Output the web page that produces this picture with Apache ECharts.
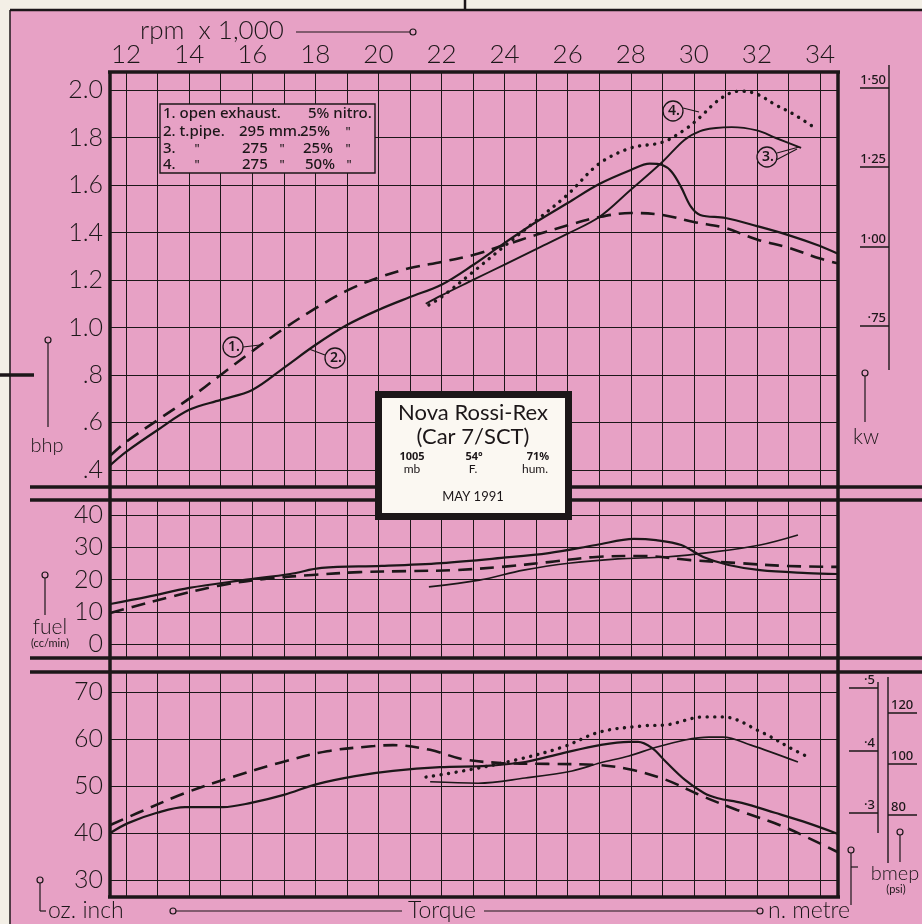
<!DOCTYPE html>
<html>
<head>
<meta charset="utf-8">
<script src="https://cdn.jsdelivr.net/npm/echarts@6/dist/echarts.min.js"></script>
<style>
  html, body { margin: 0; padding: 0; background: #f3efe6; }
  #chart { width: 922px; height: 924px; }
</style>
</head>
<body>
<div id="chart"></div>
<script>
// axis ticks
const rpmGrid = [12,13,14,15,16,17,18,19,20,21,22,23,24,25,26,27,28,29,30,31,32,33,34];
const rpmLabels = [12,14,16,18,20,22,24,26,28,30,32,34];
const bhpTicks = [0.4,0.6,0.8,1.0,1.2,1.4,1.6,1.8,2.0];
const kwTicks = [0.75,1.0,1.25,1.5];
const fuelTicks = [0,10,20,30,40];
const torqueTicks = [30,40,50,60,70];
const nmTicks = [0.3,0.4,0.5];
const psiTicks = [80,100,120];

// bhp  [rpm x1000, bhp]
const bhpOpen = [[11.5,0.46],[12,0.518],[13,0.61],[14,0.70],[15,0.80],[16,0.90],[17,0.995],[18,1.08],[19,1.155],[20,1.21],[21,1.25],[22,1.276],[23,1.305],[24,1.347],[25,1.39],[26,1.43],[27,1.465],[28,1.482],[29,1.474],[30,1.444],[31,1.419],[32,1.37],[33,1.336],[34,1.29],[34.57,1.27]];
const bhp295 = [[11.5,0.42],[12,0.476],[13,0.568],[14,0.653],[15,0.695],[16,0.737],[17,0.83],[18,0.926],[19,1.01],[20,1.074],[21,1.128],[22,1.18],[23,1.263],[24,1.356],[25,1.444],[26,1.524],[27,1.604],[28,1.663],[28.6,1.69],[29,1.684],[29.3,1.655],[29.6,1.59],[29.9,1.51],[30.2,1.474],[31,1.461],[32,1.427],[33,1.389],[34,1.343],[34.57,1.31]];
const bhp275 = [[21.5,1.10],[22,1.135],[23,1.20],[24,1.265],[25,1.33],[26,1.395],[27,1.465],[28,1.58],[29,1.697],[29.7,1.79],[30.2,1.827],[30.7,1.84],[31.2,1.844],[32,1.83],[32.6,1.798],[33.4,1.756]];
const bhp275n50 = [[21.6,1.095],[22,1.128],[23,1.234],[24,1.343],[25,1.45],[26,1.56],[27,1.69],[28,1.756],[29,1.78],[29.7,1.832],[30.2,1.886],[30.7,1.949],[31.2,1.99],[31.5,1.995],[32,1.983],[32.6,1.937],[33.1,1.903],[33.8,1.844]];

// fuel cc/min
const fuelOpen = [[11.5,9.6],[12.2,11.5],[13.4,14.6],[14.9,18.0],[16.4,20.2],[17.9,21.4],[19.4,22.3],[20.9,22.6],[22.4,22.9],[23.9,23.9],[25.4,25.4],[26.9,27.0],[28.4,27.3],[29.9,26.0],[31.4,25.1],[32.9,24.2],[34.57,23.9]];
const fuel295 = [[11.5,12.4],[12.67,14.6],[14,17.4],[15.7,19.8],[17.2,21.7],[18.2,23.6],[20.1,24.2],[22,25.1],[23.9,26.7],[25.4,28.2],[26.9,30.7],[28.1,32.6],[28.8,32.2],[29.6,30.7],[30.3,27.0],[31.1,24.5],[32.1,22.9],[33.6,22.0],[34.57,21.7]];
const fuel275 = [[21.6,17.7],[23.2,19.8],[24.6,22.9],[26.1,25.1],[27.6,26.4],[29.1,27.0],[30.6,28.5],[32.1,30.7],[33.3,33.8]];

// torque oz.inch
const torqueOpen = [[11.5,41.7],[12.38,44.3],[13.87,48.5],[15.36,51.9],[16.85,54.9],[18.37,57.4],[19.86,58.5],[20.46,58.7],[21.64,57.7],[22.68,55.7],[23.89,54.9],[25.38,54.7],[26.9,54.5],[28.07,53.4],[29.12,51.3],[30.32,47.7],[31.37,44.9],[32.86,41.3],[34.57,35.9]];
const torque295 = [[11.5,40.0],[12.06,42.1],[12.98,44.3],[13.87,45.5],[15.07,45.5],[15.96,46.4],[17.0,48.1],[18.05,50.4],[19.26,52.1],[20.46,53.2],[21.95,54.0],[23.44,54.3],[24.65,55.1],[25.85,57.0],[27.02,58.7],[27.94,59.4],[28.23,59.4],[28.67,58.1],[29.12,55.1],[29.72,51.3],[30.32,48.5],[30.76,47.4],[31.52,46.4],[32.57,44.3],[33.62,42.1],[34.57,39.8]];
const torque275 = [[21.64,50.9],[23.16,50.6],[24.65,51.7],[26.14,53.2],[27.02,54.9],[27.94,56.4],[28.83,58.3],[29.72,59.8],[30.48,60.4],[30.92,60.4],[31.81,58.7],[33.3,55.1]];
const torque275n50 = [[21.51,51.9],[22.84,53.4],[24.33,55.5],[25.85,58.3],[27.02,61.5],[28.39,62.8],[29.12,63.0],[30.32,64.7],[30.92,64.7],[32.13,61.5],[33.17,57.7],[33.68,56.0]];

// axis extents (read from frame edges)
const RPM_MIN = 11.49, RPM_MAX = 34.57;
const BHP_MIN = 0.328, BHP_MAX = 2.076;
const KW_PER_BHP = 0.7457;
const FUEL_MIN = -4.34, FUEL_MAX = 44.65;
const TQ_MIN = 26.38, TQ_MAX = 74.26;
const NM_MIN = 0.1656, NM_MAX = 0.5256;
const PSI_MIN = 47.8, PSI_MAX = 136.1;

const INK = '#1c1719';
const PINK = '#e7a1c5';
const LABEL_FONT = 'Lato';

const chart = echarts.init(document.getElementById('chart'));

function xAx(grid, withLabels) {
  return {
    type: 'value', gridIndex: grid, min: RPM_MIN, max: RPM_MAX,
    position: 'top',
    axisLine: {show: false},
    axisTick: {show: false, customValues: rpmGrid},
    splitLine: {show: true, lineStyle: {color: INK, width: 1}},
    axisLabel: {
      show: withLabels, customValues: rpmLabels, margin: 4,
      fontFamily: LABEL_FONT, fontWeight: 300, fontSize: 26, color: INK
    }
  };
}

function yAx(grid, min, max, ticks, fmt) {
  return {
    type: 'value', gridIndex: grid, min: min, max: max,
    axisLine: {show: false},
    axisTick: {show: false, customValues: ticks},
    splitLine: {show: true, lineStyle: {color: INK, width: 1}},
    axisLabel: {
      customValues: ticks, margin: 7, formatter: fmt,
      fontFamily: LABEL_FONT, fontWeight: 300, fontSize: 25, color: INK
    }
  };
}

function sideAx(grid, min, max, ticks, offset, inside, fmt) {
  return {
    type: 'value', gridIndex: grid, min: min, max: max, position: 'right', offset: offset,
    axisLine: {show: false},
    splitLine: {show: false},
    axisTick: {show: true, customValues: ticks, inside: inside, length: 29, lineStyle: {color: INK, width: 1.5}},
    axisLabel: {
      customValues: ticks, inside: inside, margin: 3, formatter: fmt,
      verticalAlign: 'bottom', padding: [0, 0, 1, 0],
      fontFamily: 'Noto Sans', fontWeight: 500, fontSize: 13, color: INK
    }
  };
}

function line(name, data, xi, yi, kind) {
  const s = {
    name: name, type: 'line', data: data, xAxisIndex: xi, yAxisIndex: yi,
    showSymbol: false, smooth: 0.35, z: 5,
    lineStyle: {color: INK, width: 2.2, cap: 'round'}
  };
  if (kind === 'dash') s.lineStyle = {color: INK, width: 2.6, type: [14, 8]};
  if (kind === 'dot') s.lineStyle = {color: INK, width: 3.4, type: [0.1, 7.5], cap: 'round'};
  if (kind === 'mid') s.lineStyle = {color: INK, width: 1.9};
  if (kind === 'thin') s.lineStyle = {color: INK, width: 1.6};
  return s;
}

// decoration helpers
function ln(x1, y1, x2, y2, w) {
  return {type: 'line', z: 50, shape: {x1: x1, y1: y1, x2: x2, y2: y2}, style: {stroke: INK, lineWidth: w || 1.2}};
}
function dot(cx, cy, r) {
  return {type: 'circle', z: 50, shape: {cx: cx, cy: cy, r: r || 3}, style: {fill: 'none', stroke: INK, lineWidth: 1.2}};
}
function txt(t, x, y, size, opts) {
  opts = opts || {};
  return {type: 'text', z: 120, style: {
    text: t, x: x, y: y, fill: INK,
    font: (opts.weight || 300) + ' ' + size + 'px ' + (opts.family || LABEL_FONT),
    textAlign: opts.align || 'center', textVerticalAlign: 'middle'
  }};
}
function tag(label, cx, cy, leaders) {
  const out = [{type: 'circle', z: 60, shape: {cx: cx, cy: cy, r: 10}, style: {fill: PINK, stroke: INK, lineWidth: 1.3}},
    txt(label, cx + 1, cy, 14, {weight: 600, family: 'Noto Sans'})];
  leaders.forEach(l => out.push(ln(l[0], l[1], l[2], l[3], 1.1)));
  return out;
}
function legendText(t, x, y, small) {
  return txt(t, x, y, small ? 12 : 15, {align: small ? 'center' : 'left', weight: 500, family: 'Noto Sans'});
}

const graphics = [
  // page edge
  {type: 'rect', z: -1, shape: {x: 0, y: 0, width: 922, height: 10}, style: {fill: '#f3efe6'}},
  {type: 'rect', z: -1, shape: {x: 0, y: 0, width: 10, height: 924}, style: {fill: '#f3efe6'}},
  ln(10, 10, 922, 10, 2.5), ln(10, 10, 10, 924, 1.5), ln(465, 0, 465, 10, 2.5), ln(0, 375, 34, 375, 3.5),
  // frame
  ln(110, 72, 110, 897, 3.5), ln(838, 72, 838, 897, 3.5),
  ln(108, 72, 840, 72, 3.5), ln(108, 897, 840, 897, 3.5),
  ln(30, 487, 922, 487, 3.5), ln(30, 500, 922, 500, 3.5),
  ln(30, 658, 922, 658, 3.5), ln(30, 672, 922, 672, 3.5),
  // rpm title
  txt('rpm  x 1,000', 140, 31, 26, {align: 'left'}), ln(296, 32, 410, 32, 1.2), dot(413, 32, 3),
  // bhp / kw markers
  dot(48, 340), ln(48, 343, 48, 427), txt('bhp', 47, 446, 20),
  ln(889, 65, 889, 370, 1.4), dot(865, 373), ln(865, 376, 865, 422), txt('kw', 866, 437, 21),
  // fuel marker
  dot(45, 575), ln(45, 578, 45, 615), txt('fuel', 50, 627, 21), txt('(cc/min)', 50, 643, 11, {weight: 400}),
  // torque markers
  dot(40, 880), ln(40, 883, 40, 911), ln(40, 911, 46, 911),
  txt('oz. inch', 48, 911, 23, {align: 'left'}), dot(173, 911), ln(176, 911, 402, 911),
  txt('Torque', 442, 911, 23), ln(484, 911, 757, 911), dot(760, 911), txt('n. metre', 768, 911, 23, {align: 'left'}),
  ln(878, 682, 878, 833, 1.4), ln(888, 677, 888, 863, 1.4),
  dot(851, 850), ln(851, 853, 851, 905), ln(851, 867, 858, 867),
  dot(900, 832), ln(900, 835, 900, 862), txt('bmep', 895, 874, 20), txt('(psi)', 896, 889, 11, {weight: 400}),
  // legend box
  {type: 'rect', z: 100, shape: {x: 160, y: 104, width: 215, height: 69}, style: {fill: PINK, stroke: INK, lineWidth: 1.4}},
  legendText('1. open exhaust.', 163, 114), legendText('5% nitro.', 308, 114),
  legendText('2. t.pipe.', 163, 132), legendText('295 mm.', 239, 132), legendText('25%', 300, 132), legendText('"', 348, 133, true),
  legendText('3.', 163, 149), legendText('"', 197, 150, true), legendText('275', 242, 149), legendText('"', 282, 150, true),
  legendText('25%', 303, 149), legendText('"', 348, 150, true),
  legendText('4.', 163, 165), legendText('"', 197, 166, true), legendText('275', 242, 165), legendText('"', 282, 166, true),
  legendText('50%', 305, 165), legendText('"', 349, 166, true),
  // title box
  {type: 'rect', z: 100, shape: {x: 378.5, y: 394.5, width: 190, height: 122}, style: {fill: '#fbf8f2', stroke: INK, lineWidth: 7}},
  txt('Nova Rossi-Rex', 473, 413, 22, {weight: 400}),
  txt('(Car 7/SCT)', 473, 437, 22, {weight: 400}),
  ln(396, 450, 552, 450, 1.6), ln(396, 475, 552, 475, 1.6),
  ln(446, 450, 446, 475, 1.4), ln(503, 450, 503, 475, 1.4),
  txt('1005', 412, 457, 11, {weight: 700, family: 'Noto Sans'}), txt('mb', 412, 469, 12, {weight: 400}),
  txt('54°', 474, 457, 11, {weight: 700, family: 'Noto Sans'}), txt('F.', 473, 469, 12, {weight: 400}),
  txt('71%', 538, 457, 11, {weight: 700, family: 'Noto Sans'}), txt('hum.', 535, 469, 12, {weight: 400}),
  txt('MAY 1991', 473, 497, 13, {weight: 400})
].concat(
  tag('1.', 233, 347, [[243, 347, 260, 345]]),
  tag('2.', 335, 358, [[325, 355, 309, 349]]),
  tag('3.', 767, 157, [[777, 153, 799, 147], [776, 160, 797, 149]]),
  tag('4.', 673, 111, [[683, 108, 699, 112]])
);

const gridBase = {left: 110, width: 728, show: false, containLabel: false};

chart.setOption({
  backgroundColor: PINK,
  animation: false,
  grid: [
    Object.assign({top: 72, height: 415}, gridBase),
    Object.assign({top: 500, height: 158}, gridBase),
    Object.assign({top: 672, height: 225}, gridBase)
  ],
  xAxis: [xAx(0, true), xAx(1, false), xAx(2, false)],
  yAxis: [
    yAx(0, BHP_MIN, BHP_MAX, bhpTicks, v => v < 1 ? v.toFixed(1).slice(1) : v.toFixed(1)),
    sideAx(0, BHP_MIN * KW_PER_BHP, BHP_MAX * KW_PER_BHP, kwTicks, 51, true,
      v => v < 1 ? '·' + v.toFixed(2).slice(2) : v.toFixed(2).replace('.', '·')),
    yAx(1, FUEL_MIN, FUEL_MAX, fuelTicks, v => String(v)),
    yAx(2, TQ_MIN, TQ_MAX, torqueTicks, v => String(v)),
    sideAx(2, NM_MIN, NM_MAX, nmTicks, 40, true, v => '·' + Math.round(v * 10)),
    sideAx(2, PSI_MIN, PSI_MAX, psiTicks, 50, false, v => String(v))
  ],
  series: [
    line('1 bhp', bhpOpen, 0, 0, 'dash'),
    line('2 bhp', bhp295, 0, 0, 'solid'),
    line('3 bhp', bhp275, 0, 0, 'mid'),
    line('4 bhp', bhp275n50, 0, 0, 'dot'),
    line('1 fuel', fuelOpen, 1, 2, 'dash'),
    line('2 fuel', fuel295, 1, 2, 'solid'),
    line('3 fuel', fuel275, 1, 2, 'thin'),
    line('1 torque', torqueOpen, 2, 3, 'dash'),
    line('2 torque', torque295, 2, 3, 'solid'),
    line('3 torque', torque275, 2, 3, 'thin'),
    line('4 torque', torque275n50, 2, 3, 'dot')
  ],
  graphic: graphics
});
</script>
</body>
</html>
